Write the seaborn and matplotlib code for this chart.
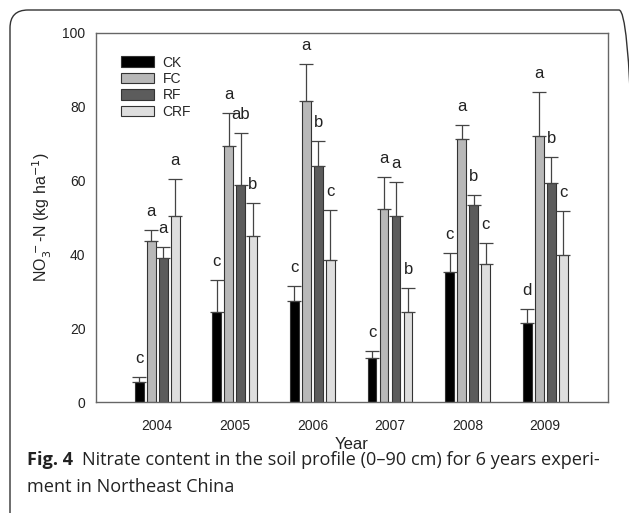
import matplotlib
matplotlib.use("Agg")
import matplotlib.pyplot as plt
import seaborn as sns
import pandas as pd
import numpy as np
from matplotlib.patches import FancyBboxPatch

years = ["2004", "2005", "2006", "2007", "2008", "2009"]
treatments = ["CK", "FC", "RF", "CRF"]
ck_mean = [5.5, 24.5, 27.5, 11.8, 35.2, 21.5]
fc_mean = [43.5, 69.5, 81.5, 52.3, 71.2, 72.0]
rf_mean = [39.0, 58.8, 64.0, 50.5, 53.5, 59.3]
crf_mean = [50.5, 45.0, 38.5, 24.5, 37.5, 39.8]
ck_err = [1.3, 8.5, 4.0, 2.0, 5.1, 3.8]
fc_err = [3.0, 8.8, 10.0, 8.7, 3.8, 12.0]
rf_err = [3.0, 14.2, 6.8, 9.0, 2.5, 7.0]
crf_err = [10.0, 9.0, 13.5, 6.5, 5.7, 12.0]
ck_letters = ["c", "c", "c", "c", "c", "d"]
fc_letters = ["a", "a", "a", "a", "a", "a"]
rf_letters = ["a", "ab", "b", "a", "b", "b"]
crf_letters = ["a", "b", "c", "b", "c", "c"]

colors = ["#000000", "#b8b8b8", "#5c5c5c", "#dedede"]

means = [ck_mean, fc_mean, rf_mean, crf_mean]
errs = [ck_err, fc_err, rf_err, crf_err]
letters = [ck_letters, fc_letters, rf_letters, crf_letters]

rows = []
for t, m in zip(treatments, means):
    for y, v in zip(years, m):
        rows.append({"Year": y, "Treatment": t, "value": v})
df = pd.DataFrame(rows)

sns.set_style("white")
plt.rcParams["font.family"] = ["Liberation Sans", "DejaVu Sans"]

fig = plt.figure(figsize=(6.29, 5.13), dpi=100)
ax = fig.add_axes([96/629, 1-402/513, (608-96)/629, (402-33)/513])

sns.barplot(data=df, x="Year", y="value", hue="Treatment", order=years,
            hue_order=treatments, palette=colors, width=0.62, gap=0.27,
            edgecolor="#333333", linewidth=0.8, errorbar=None, ax=ax,
            saturation=1)

for cont, err, lab in zip(ax.containers, errs, letters):
    xs = [p.get_x() + p.get_width()/2 for p in cont.patches]
    hs = [p.get_height() for p in cont.patches]
    ax.errorbar(xs, hs, yerr=[np.zeros(len(err)), err], fmt="none",
                ecolor="#444444", elinewidth=0.9, capsize=5, capthick=0.9)
    for x, h, e, l in zip(xs, hs, err, lab):
        ax.text(x, h + e + 3.0, l, ha="center", va="bottom", fontsize=12,
                color="#222222")

ax.set_xlim(-0.79, 5.81)
ax.set_ylim(0, 100)
ax.set_yticks([0, 20, 40, 60, 80, 100])
ax.tick_params(axis="both", direction="out", length=4, width=0.8,
               colors="#555555", labelcolor="#222222", labelsize=10)
ax.tick_params(axis="x", pad=8)
for s in ax.spines.values():
    s.set_color("#666666")
    s.set_linewidth(1.0)
ax.set_xlabel("Year", fontsize=12, color="#222222", labelpad=3)
ax.set_ylabel(r"NO$_3^{\,-}$-N (kg ha$^{-1}$)", fontsize=11.5, color="#222222",
              labelpad=6)

handles, labs = ax.get_legend_handles_labels()
ax.legend(handles, labs, loc="upper left", bbox_to_anchor=(0.03, 0.965),
          frameon=False, fontsize=10, handlelength=2.4, handleheight=0.8,
          labelspacing=0.17, handletextpad=0.6, borderaxespad=0.3)

cap_font = ["Open Sans", "DejaVu Sans"]
t1 = fig.text(27/629, 1-460/513, "Fig. 4", fontsize=13.1, fontweight="bold",
              family=cap_font, va="center", ha="left", color="#222222")
fig.canvas.draw()
r = fig.canvas.get_renderer()
bb = t1.get_window_extent(renderer=r)
fig.text((bb.x1 + 9)/629, 1-460/513,
         "Nitrate content in the soil profile (0\u201390 cm) for 6 years experi-",
         fontsize=13.1, family=cap_font, va="center",
         ha="left", color="#222222")
fig.text(27/629, 1-487/513, "ment in Northeast China", fontsize=13.1,
         family=cap_font, va="center", ha="left", color="#222222")

box = FancyBboxPatch((0.10, -0.5), 6.27, 5.03 + 0.5,
                     boxstyle="round,pad=0,rounding_size=0.18",
                     transform=fig.dpi_scale_trans, fill=False,
                     edgecolor="#333333", linewidth=1.0)
fig.add_artist(box)

fig.savefig("out.png", dpi=100)
